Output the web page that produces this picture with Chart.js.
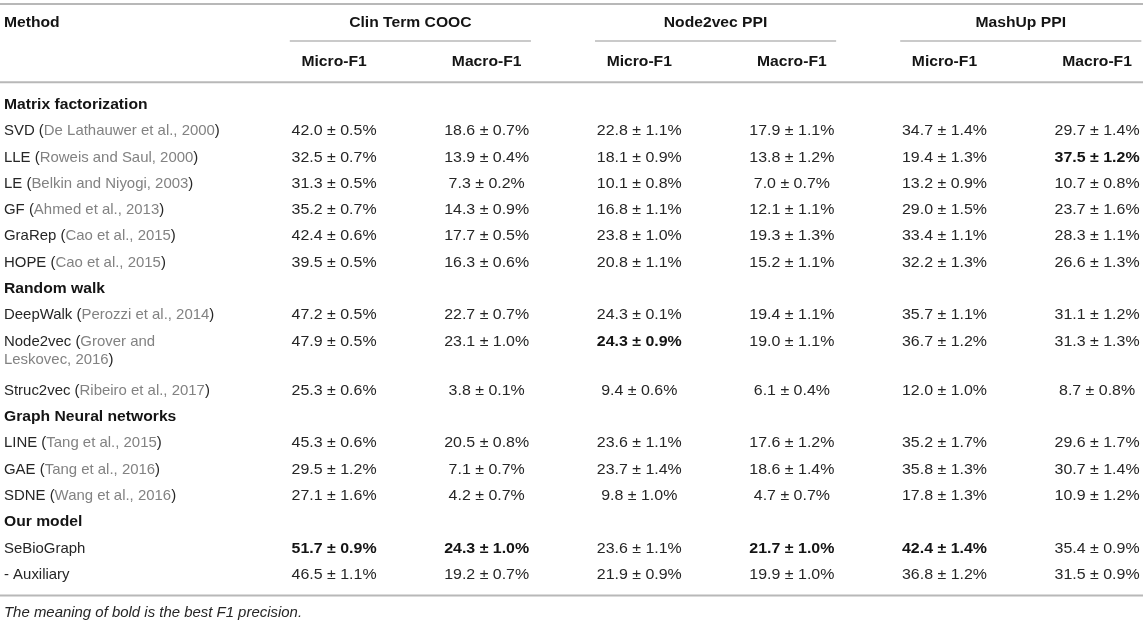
<!DOCTYPE html>
<html>
<head>
<meta charset="utf-8">
<script src="https://cdn.jsdelivr.net/npm/chart.js@4.4.1/dist/chart.umd.min.js"></script>
<style>
  html, body { margin: 0; padding: 0; background: #fff; }
  #wrap { width: 1145px; height: 624px; }
</style>
</head>
<body>
<div id="wrap"><canvas id="table"></canvas></div>
<script>
// TABLE DATA
const groups = ['Clin Term COOC', 'Node2vec PPI', 'MashUp PPI'];
const metrics = ['Micro-F1', 'Macro-F1'];
const sections = ['Matrix factorization', 'Random walk', 'Graph Neural networks', 'Our model'];
const sectionOf = [0, 0, 0, 0, 0, 0, 1, 1, 1, 2, 2, 2, 3, 3];
const methods = ['SVD', 'LLE', 'LE', 'GF', 'GraRep', 'HOPE', 'DeepWalk', 'Node2vec', 'Struc2vec',
                 'LINE', 'GAE', 'SDNE', 'SeBioGraph', '- Auxiliary'];
const cites = ['De Lathauwer et al., 2000', 'Roweis and Saul, 2000', 'Belkin and Niyogi, 2003',
               'Ahmed et al., 2013', 'Cao et al., 2015', 'Cao et al., 2015', 'Perozzi et al., 2014',
               'Grover and Leskovec, 2016', 'Ribeiro et al., 2017', 'Tang et al., 2015',
               'Tang et al., 2016', 'Wang et al., 2016', '', ''];

const clinMicro   = [42.0, 32.5, 31.3, 35.2, 42.4, 39.5, 47.2, 47.9, 25.3, 45.3, 29.5, 27.1, 51.7, 46.5];
const clinMicroSd = [0.5, 0.7, 0.5, 0.7, 0.6, 0.5, 0.5, 0.5, 0.6, 0.6, 1.2, 1.6, 0.9, 1.1];
const clinMacro   = [18.6, 13.9, 7.3, 14.3, 17.7, 16.3, 22.7, 23.1, 3.8, 20.5, 7.1, 4.2, 24.3, 19.2];
const clinMacroSd = [0.7, 0.4, 0.2, 0.9, 0.5, 0.6, 0.7, 1.0, 0.1, 0.8, 0.7, 0.7, 1.0, 0.7];
const n2vMicro    = [22.8, 18.1, 10.1, 16.8, 23.8, 20.8, 24.3, 24.3, 9.4, 23.6, 23.7, 9.8, 23.6, 21.9];
const n2vMicroSd  = [1.1, 0.9, 0.8, 1.1, 1.0, 1.1, 0.1, 0.9, 0.6, 1.1, 1.4, 1.0, 1.1, 0.9];
const n2vMacro    = [17.9, 13.8, 7.0, 12.1, 19.3, 15.2, 19.4, 19.0, 6.1, 17.6, 18.6, 4.7, 21.7, 19.9];
const n2vMacroSd  = [1.1, 1.2, 0.7, 1.1, 1.3, 1.1, 1.1, 1.1, 0.4, 1.2, 1.4, 0.7, 1.0, 1.0];
const mashMicro   = [34.7, 19.4, 13.2, 29.0, 33.4, 32.2, 35.7, 36.7, 12.0, 35.2, 35.8, 17.8, 42.4, 36.8];
const mashMicroSd = [1.4, 1.3, 0.9, 1.5, 1.1, 1.3, 1.1, 1.2, 1.0, 1.7, 1.3, 1.3, 1.4, 1.2];
const mashMacro   = [29.7, 37.5, 10.7, 23.7, 28.3, 26.6, 31.1, 31.3, 8.7, 29.6, 30.7, 10.9, 35.4, 31.5];
const mashMacroSd = [1.4, 1.2, 0.8, 1.6, 1.1, 1.3, 1.2, 1.3, 0.8, 1.7, 1.4, 1.2, 0.9, 0.9];
// row shown in bold for each column
const bestRow = [12, 12, 7, 12, 12, 1];
const footnote = 'The meaning of bold is the best F1 precision.';

const means = [clinMicro, clinMacro, n2vMicro, n2vMacro, mashMicro, mashMacro];
const sds = [clinMicroSd, clinMacroSd, n2vMicroSd, n2vMacroSd, mashMicroSd, mashMacroSd];

// STYLE
const FONT = '"Liberation Sans", Arial, Helvetica, sans-serif';
const SIZE = 14.5;
const HS = 1.03;            // horizontal stretch, names
const HS_BOLD = 1.08;       // headers and section titles
const HS_CELL = 1.1;        // numbers
const DARK = '#262626';
const BOLD = '#141414';
const GREY = '#828282';
const RULE = '#b8b8b8';
const METHOD_W = 218;       // width of method column before wrapping

const measure = document.createElement('canvas').getContext('2d');
function textW(str, weight) {
  measure.font = (weight || '') + ' ' + SIZE + 'px ' + FONT;
  return measure.measureText(str).width * HS;
}

// split "Name (cite)" in coloured words, then wrap them
function methodLines(i) {
  let words = [[{ t: methods[i], c: DARK }]];
  if (cites[i]) {
    const cw = cites[i].split(' ');
    cw.forEach(function (w, k) {
      let word = [];
      if (k === 0) word.push({ t: '(', c: DARK });
      word.push({ t: w, c: GREY });
      if (k === cw.length - 1) word.push({ t: ')', c: DARK });
      words.push(word);
    });
  }
  const space = textW(' ');
  let lines = [[]], lineW = 0;
  words.forEach(function (word) {
    const w = word.reduce(function (s, p) { return s + textW(p.t); }, 0);
    if (lines[lines.length - 1].length && lineW + space + w > METHOD_W) {
      lines.push([]);
      lineW = 0;
    }
    lines[lines.length - 1].push(word);
    lineW += (lineW ? space : 0) + w;
  });
  return lines;
}

// row layout in row units
const methodLayout = methods.map(function (m, i) { return methodLines(i); });
const sectionPos = [];
const methodPos = [];
let pos = 0;
methods.forEach(function (m, i) {
  if (i === 0 || sectionOf[i] !== sectionOf[i - 1]) {
    sectionPos.push(pos);
    pos += 1;
  }
  methodPos.push(pos);
  pos += 1 + (methodLayout[i].length - 1) * 0.87;
});
const lastPos = methodPos[methodPos.length - 1];

const datasets = means.map(function (col, c) {
  return {
    label: groups[Math.floor(c / 2)] + ' ' + metrics[c % 2],
    data: col.map(function (v, i) { return { x: c + 1, y: methodPos[i] }; }),
    pointRadius: 0,
    showLine: false
  };
});

function drawText(ctx, str, x, y, weight, color, align, style, hs) {
  ctx.save();
  ctx.font = (style || '') + ' ' + (weight || '') + ' ' + SIZE + 'px ' + FONT;
  ctx.fillStyle = color;
  ctx.textBaseline = 'middle';
  ctx.textAlign = align || 'left';
  ctx.translate(x, y);
  ctx.scale(hs || HS, 1);
  ctx.fillText(str, 0, 0);
  ctx.restore();
}

function rule(ctx, x1, x2, y, w) {
  ctx.save();
  ctx.strokeStyle = RULE;
  ctx.lineWidth = w;
  ctx.beginPath();
  ctx.moveTo(x1, y);
  ctx.lineTo(x2, y);
  ctx.stroke();
  ctx.restore();
}

const tablePlugin = {
  id: 'tablePlugin',
  afterDatasetsDraw: function (chart) {
    const ctx = chart.ctx;
    const xs = chart.scales.x, ys = chart.scales.y;
    const area = chart.chartArea;
    const left = area.left + 4;

    // rules
    rule(ctx, area.left, area.right - 2, ys.getPixelForValue(-3.84), 2);
    rule(ctx, area.left, area.right - 2, ys.getPixelForValue(-0.86), 2);
    rule(ctx, area.left, area.right - 2, ys.getPixelForValue(lastPos + 0.78), 2);
    groups.forEach(function (g, k) {
      rule(ctx, xs.getPixelForValue(2 * k + 0.71), xs.getPixelForValue(2 * k + 2.29),
           ys.getPixelForValue(-2.43), 1.5);
    });

    // header
    drawText(ctx, 'Method', left, ys.getPixelForValue(-3.12), 'bold', BOLD, 'left', '', HS_BOLD);
    groups.forEach(function (g, k) {
      drawText(ctx, g, xs.getPixelForValue(2 * k + 1.5), ys.getPixelForValue(-3.12),
               'bold', BOLD, 'center', '', HS_BOLD);
      metrics.forEach(function (m, j) {
        drawText(ctx, m, xs.getPixelForValue(2 * k + j + 1), ys.getPixelForValue(-1.63),
                 'bold', BOLD, 'center', '', HS_BOLD);
      });
    });

    // sections
    sections.forEach(function (s, k) {
      drawText(ctx, s, left, ys.getPixelForValue(sectionPos[k]), 'bold', BOLD, 'left', '', HS_BOLD);
    });

    // method names
    const space = textW(' ');
    methodLayout.forEach(function (lines, i) {
      lines.forEach(function (line, l) {
        let x = left;
        const y = ys.getPixelForValue(methodPos[i] + l * 0.7);
        line.forEach(function (word) {
          word.forEach(function (p) {
            drawText(ctx, p.t, x, y, '', p.c);
            x += textW(p.t);
          });
          x += space;
        });
      });
    });

    // cells
    chart.data.datasets.forEach(function (ds, c) {
      chart.getDatasetMeta(c).data.forEach(function (pt, i) {
        const str = means[c][i].toFixed(1) + ' \u00b1 ' + sds[c][i].toFixed(1) + '%';
        const best = bestRow[c] === i;
        drawText(ctx, str, pt.x, pt.y, best ? 'bold' : '', best ? BOLD : DARK, 'center', '', HS_CELL);
      });
    });

    // footnote
    drawText(ctx, footnote, left, ys.getPixelForValue(lastPos + 1.43), '', DARK, 'left', 'italic');
  }
};

new Chart(document.getElementById('table'), {
  type: 'scatter',
  data: { datasets: datasets },
  options: {
    responsive: true,
    maintainAspectRatio: false,
    animation: false,
    layout: { padding: 0 },
    plugins: { legend: { display: false }, tooltip: { enabled: false } },
    scales: {
      x: { type: 'linear', display: false, min: -1.189, max: 6.314 },
      y: { type: 'linear', display: false, reverse: true, min: -3.992, max: 19.734 }
    }
  },
  plugins: [tablePlugin]
});
</script>
</body>
</html>
